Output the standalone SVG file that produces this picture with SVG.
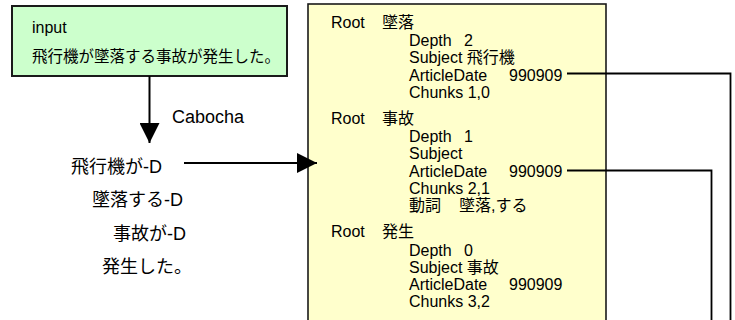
<svg xmlns="http://www.w3.org/2000/svg" width="735" height="320" viewBox="0 0 735 320">
<style>
text{font-family:"Liberation Sans","Noto Sans CJK JP",sans-serif;fill:#000}
.g{font-size:16px}
.gj{font-size:15.5px}
.l{font-size:18px}
.y{font-size:16px}
.ln{stroke:#000;stroke-width:2;fill:none}
.cn{stroke:#000;stroke-width:1.8;fill:none}
</style>
<defs>
<marker id="ah" markerUnits="userSpaceOnUse" markerWidth="20" markerHeight="20" refX="20" refY="10" orient="auto" viewBox="0 0 20 20">
<path d="M0,0 L20,10 L0,20 z" fill="#000"/>
</marker>
</defs>
<rect width="735" height="320" fill="#fff"/>
<g id="input">
<rect x="12" y="6" width="275" height="70" fill="#ccffcc" stroke="#1a1a1a" stroke-width="2"/>
<text class="g" x="32" y="33">input</text>
<text class="gj" x="32" y="62">飛行機が墜落する事故が発生した。</text>
</g>
<g id="chunks">
<text class="l" x="172" y="122.5">Cabocha</text>
<text class="l" x="71" y="172.5">飛行機が-D</text>
<text class="l" x="92" y="206">墜落する-D</text>
<text class="l" x="113" y="239.5">事故が-D</text>
<text class="l" x="102" y="273">発生した。</text>
</g>
<g id="tree">
<rect x="308" y="4" width="298" height="330" fill="#ffffcc" stroke="#1a1a1a" stroke-width="1.6"/>
<text class="y" x="331" y="28">Root<tspan x="382">墜落</tspan></text>
<text class="y" x="409" y="45.5">Depth<tspan x="464">2</tspan></text>
<text class="y" x="409" y="63">Subject 飛行機</text>
<text class="y" x="409" y="80.5">ArticleDate<tspan x="509">990909</tspan></text>
<text class="y" x="409" y="98">Chunks 1,0</text>
<text class="y" x="331" y="124">Root<tspan x="382">事故</tspan></text>
<text class="y" x="409" y="141.5">Depth<tspan x="464">1</tspan></text>
<text class="y" x="409" y="159">Subject</text>
<text class="y" x="409" y="176.5">ArticleDate<tspan x="509">990909</tspan></text>
<text class="y" x="409" y="193.5">Chunks 2,1</text>
<text class="y" x="409" y="211">動詞<tspan x="459">墜落,する</tspan></text>
<text class="y" x="331" y="237">Root<tspan x="382">発生</tspan></text>
<text class="y" x="409" y="255.5">Depth<tspan x="464">0</tspan></text>
<text class="y" x="409" y="272.5">Subject 事故</text>
<text class="y" x="409" y="289.5">ArticleDate<tspan x="509">990909</tspan></text>
<text class="y" x="409" y="307">Chunks 3,2</text>
</g>
<g id="connectors">
<line class="ln" x1="149.5" y1="76" x2="149.5" y2="143" marker-end="url(#ah)"/>
<line class="ln" x1="184" y1="163" x2="317" y2="163" marker-end="url(#ah)"/>
<polyline class="cn" points="567,73.5 730.5,73.5 730.5,322"/>
<polyline class="cn" points="567,170.5 711.5,170.5 711.5,322"/>
</g>
</svg>
